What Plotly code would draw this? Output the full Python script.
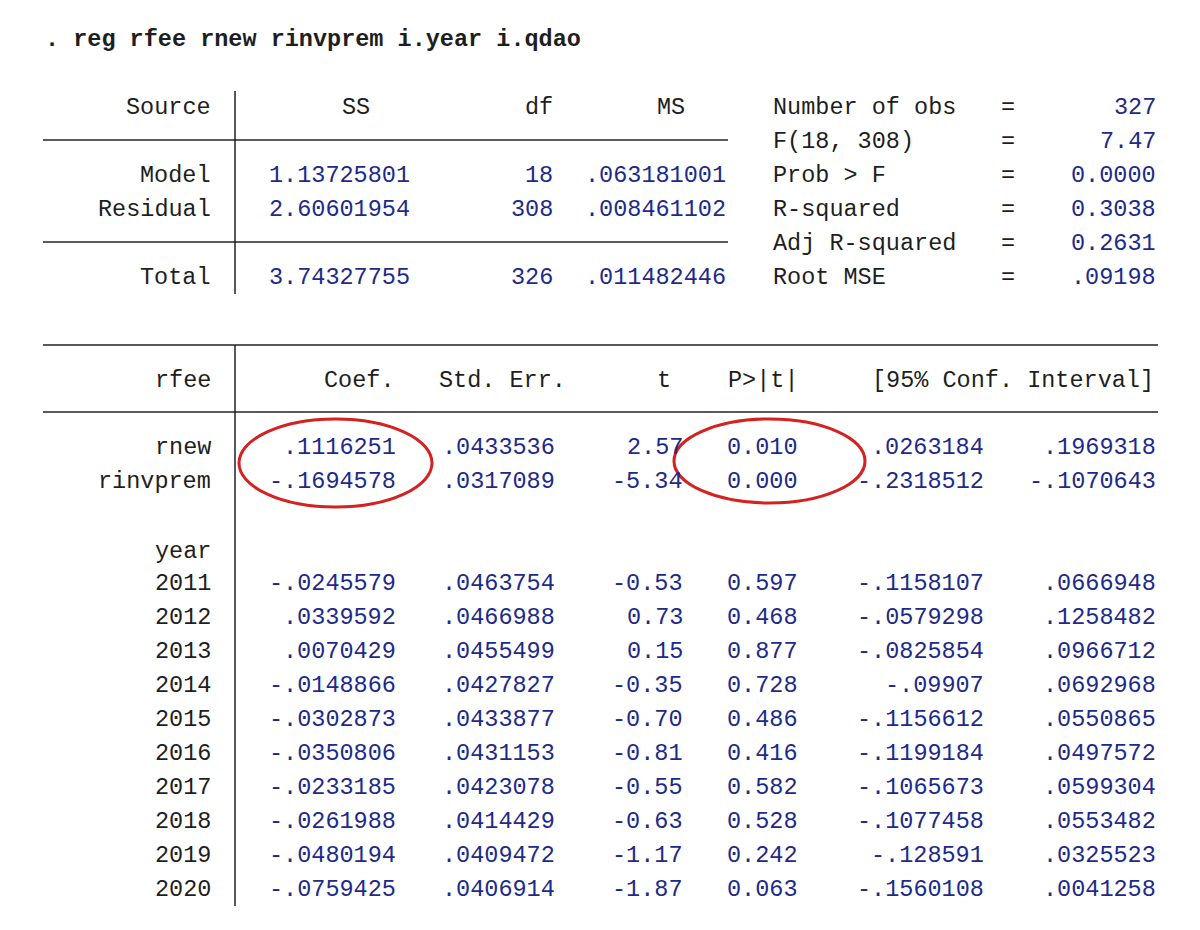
import plotly.graph_objects as go

command = ". reg rfee rnew rinvprem i.year i.qdao"
anova_rows = ["Model", "Residual", "Total"]
anova_ss = ["1.13725801", "2.60601954", "3.74327755"]
anova_df = ["18", "308", "326"]
anova_ms = [".063181001", ".008461102", ".011482446"]
stat_labels = ["Number of obs", "F(18, 308)", "Prob > F", "R-squared", "Adj R-squared", "Root MSE"]
stat_values = ["327", "7.47", "0.0000", "0.3038", "0.2631", ".09198"]
coef_vars = ["rnew", "rinvprem"]
year_labels = ["2011", "2012", "2013", "2014", "2015", "2016", "2017", "2018", "2019", "2020"]
coef = [".1116251", "-.1694578", "-.0245579", ".0339592", ".0070429", "-.0148866", "-.0302873",
        "-.0350806", "-.0233185", "-.0261988", "-.0480194", "-.0759425"]
stderr = [".0433536", ".0317089", ".0463754", ".0466988", ".0455499", ".0427827", ".0433877",
          ".0431153", ".0423078", ".0414429", ".0409472", ".0406914"]
tval = ["2.57", "-5.34", "-0.53", "0.73", "0.15", "-0.35", "-0.70", "-0.81", "-0.55", "-0.63", "-1.17", "-1.87"]
pval = ["0.010", "0.000", "0.597", "0.468", "0.877", "0.728", "0.486", "0.416", "0.582", "0.528", "0.242", "0.063"]
ci_lo = [".0263184", "-.2318512", "-.1158107", "-.0579298", "-.0825854", "-.09907", "-.1156612",
         "-.1199184", "-.1065673", "-.1077458", "-.128591", "-.1560108"]
ci_hi = [".1969318", "-.1070643", ".0666948", ".1258482", ".0966712", ".0692968", ".0550865",
         ".0497572", ".0599304", ".0553482", ".0325523", ".0041258"]

FONT = "Liberation Mono"
FS = 23.5
BLACK = "#1e1e1e"
BLUE = "#1c2a8a"
anns = []
def t(x, y, s, anchor="right", color=BLACK):
    anns.append(dict(x=x, y=y, text=s, xref="x", yref="y", showarrow=False, xanchor=anchor,
                     yanchor="middle", font=dict(family=FONT, size=FS, color=color)))

t(42, 38, "<b>" + command + "</b>", "left")
t(212, 106, "Source"); t(355, 106, "SS", "center"); t(554, 106, "df"); t(686, 106, "MS")
ay = [174, 208, 276]
for i, r in enumerate(anova_rows):
    t(212, ay[i], r)
    t(411, ay[i], anova_ss[i], color=BLUE)
    t(554, ay[i], anova_df[i], color=BLUE)
    t(727, ay[i], anova_ms[i], color=BLUE)
for i, (l, v) in enumerate(zip(stat_labels, stat_values)):
    y = 106 + 34 * i
    t(770, y, l, "left")
    t(1007, y, "=", "center")
    t(1157, y, v, color=BLUE)
t(212, 379, "rfee"); t(396, 379, "Coef."); t(567, 379, "Std. Err."); t(663, 379, "t", "center")
t(800, 379, "P>|t|"); t(1155, 379, "[95% Conf. Interval]")
rows_y = [446, 480] + [582 + 34 * k for k in range(10)]
labels = coef_vars + year_labels
t(212, 550, "year")
for i, y in enumerate(rows_y):
    t(212, y, labels[i])
    t(397, y, coef[i], color=BLUE)
    t(556, y, stderr[i], color=BLUE)
    t(684, y, tval[i], color=BLUE)
    t(799, y, pval[i], color=BLUE)
    t(985, y, ci_lo[i], color=BLUE)
    t(1157, y, ci_hi[i], color=BLUE)

shapes = []
def line(x0, y0, x1, y1):
    shapes.append(dict(type="line", x0=x0, y0=y0, x1=x1, y1=y1, xref="x", yref="y",
                       line=dict(color="#222", width=1.5)))
line(42, 139, 727, 139); line(42, 241, 727, 241); line(234, 90, 234, 293)
line(42, 344, 1157, 344); line(42, 411, 1157, 411); line(234, 344, 234, 905)
for x0, x1, y0, y1 in [(238, 431, 418, 506), (673, 864, 418, 502)]:
    shapes.append(dict(type="circle", x0=x0, x1=x1, y0=y0, y1=y1, xref="x", yref="y",
                       line=dict(color="#d42222", width=3)))

fig = go.Figure()
fig.update_layout(width=1200, height=930, margin=dict(l=0, r=0, t=0, b=0),
                  paper_bgcolor="white", plot_bgcolor="white",
                  xaxis=dict(range=[7, 1207], visible=False, fixedrange=True),
                  yaxis=dict(range=[937, 7], visible=False, fixedrange=True),
                  annotations=anns, shapes=shapes, showlegend=False)
fig.write_html("out.html")
